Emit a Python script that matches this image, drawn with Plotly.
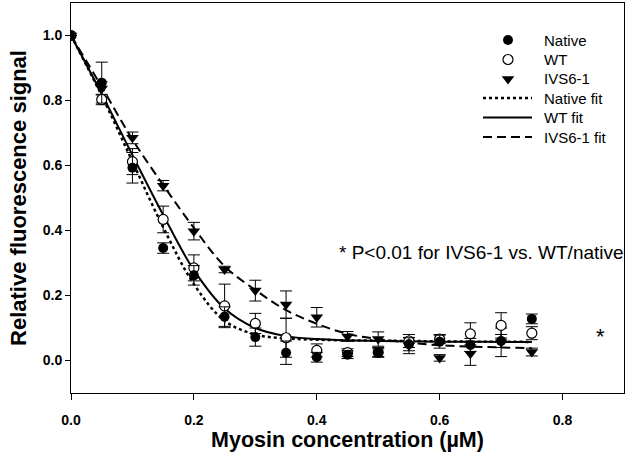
import plotly.graph_objects as go

# ---- data ----
conc = [0.0, 0.05, 0.10, 0.15, 0.20, 0.25, 0.30, 0.35, 0.40, 0.45, 0.50, 0.55, 0.60, 0.65, 0.70, 0.75]

native = [1.0, 0.855, 0.593, 0.346, 0.262, 0.135, 0.072, 0.024, 0.010, 0.018, 0.024, 0.050, 0.058, 0.048, 0.060, 0.128]
native_err = [0.0, 0.063, 0.047, 0.016, 0.030, 0.030, 0.028, 0.036, 0.015, 0.012, 0.012, 0.020, 0.020, 0.020, 0.020, 0.015]

wt = [1.0, 0.803, 0.612, 0.434, 0.285, 0.168, 0.114, 0.070, 0.031, 0.024, 0.025, 0.060, 0.066, 0.082, 0.108, 0.084]
wt_err = [0.0, 0.016, 0.040, 0.041, 0.040, 0.067, 0.031, 0.060, 0.020, 0.012, 0.015, 0.020, 0.014, 0.034, 0.039, 0.020]

ivs = [1.0, 0.837, 0.685, 0.538, 0.398, 0.280, 0.215, 0.172, 0.133, 0.074, 0.066, 0.046, 0.008, 0.021, 0.056, 0.026]
ivs_err = [0.0, 0.020, 0.018, 0.016, 0.027, 0.010, 0.032, 0.042, 0.030, 0.015, 0.022, 0.025, 0.010, 0.036, 0.044, 0.012]

fit_x = [0.0, 0.05, 0.10, 0.15, 0.20, 0.25, 0.30, 0.35, 0.40, 0.45, 0.50, 0.55, 0.60, 0.65, 0.70, 0.75]
native_fit = [1.0, 0.815, 0.612, 0.41, 0.235, 0.122, 0.080, 0.068, 0.064, 0.062, 0.061, 0.060, 0.059, 0.058, 0.058, 0.057]
wt_fit = [1.0, 0.82, 0.632, 0.448, 0.278, 0.160, 0.100, 0.075, 0.066, 0.062, 0.060, 0.059, 0.058, 0.058, 0.057, 0.057]
ivs_fit = [1.0, 0.842, 0.680, 0.540, 0.408, 0.290, 0.217, 0.155, 0.113, 0.082, 0.066, 0.055, 0.047, 0.043, 0.040, 0.038]

x_ticks = [0.0, 0.2, 0.4, 0.6, 0.8]
y_ticks = [0.0, 0.2, 0.4, 0.6, 0.8, 1.0]

legend_names = ["Native", "WT", "IVS6-1", "Native fit", "WT fit", "IVS6-1 fit"]

FONT = "Liberation Sans, Arial, sans-serif"

# plot area in pixels (for legend placement)
L, R, T, B = 71, 624, 3, 393
def fx(px):
    return (px - L) / (R - L)
def fy(py):
    return (B - py) / (B - T)

fig = go.Figure()

def err(vals):
    return dict(type="data", array=vals, visible=True, color="black", thickness=1, width=6)

DOT = dict(color="black", width=2.5, dash="dot")
SOLID = dict(color="black", width=2)
DASH = dict(color="black", width=2, dash="9px,5px")
M_NATIVE = dict(symbol="circle", size=10, color="black")
M_WT = dict(symbol="circle", size=10, color="white", line=dict(color="black", width=1.2))
M_IVS = dict(symbol="triangle-down", size=11, color="black")

fig.add_trace(go.Scatter(x=fit_x, y=native_fit, mode="lines", name="Native fit",
                         line=dict(DOT, shape="spline")))
fig.add_trace(go.Scatter(x=fit_x, y=wt_fit, mode="lines", name="WT fit",
                         line=dict(SOLID, shape="spline")))
fig.add_trace(go.Scatter(x=fit_x, y=ivs_fit, mode="lines", name="IVS6-1 fit",
                         line=dict(DASH, shape="spline")))

fig.add_trace(go.Scatter(x=conc, y=ivs, mode="markers", name="IVS6-1", error_y=err(ivs_err), marker=M_IVS))
fig.add_trace(go.Scatter(x=conc, y=wt, mode="markers", name="WT", error_y=err(wt_err), marker=M_WT))
fig.add_trace(go.Scatter(x=conc, y=native, mode="markers", name="Native", error_y=err(native_err), marker=M_NATIVE))

# ---- legend (drawn manually for exact spacing) ----
row_y = [40, 59.5, 79, 98, 117.5, 137]
sym_x = 508
for yy, mk in zip(row_y[:3], [M_NATIVE, M_WT, M_IVS]):
    fig.add_trace(go.Scatter(x=[fx(sym_x)], y=[fy(yy)], mode="markers", marker=mk,
                             xaxis="x2", yaxis="y2", hoverinfo="skip"))
for yy, ln in zip(row_y[3:], [DOT, SOLID, DASH]):
    fig.add_shape(type="line", xref="paper", yref="paper", x0=fx(483), x1=fx(532),
                  y0=fy(yy), y1=fy(yy), line=ln)
for yy, name in zip(row_y, legend_names):
    fig.add_annotation(x=fx(542), y=fy(yy), xref="paper", yref="paper", text=name,
                       showarrow=False, xanchor="left", yanchor="middle",
                       font=dict(family=FONT, size=15, color="black"))

fig.add_annotation(x=0.433, y=0.332, xref="x", yref="y", text="* P<0.01 for IVS6-1 vs. WT/native",
                   showarrow=False, xanchor="left", yanchor="middle",
                   font=dict(family=FONT, size=19, color="black"))
fig.add_annotation(x=0.862, y=0.074, xref="x", yref="y", text="*",
                   showarrow=False, xanchor="center", yanchor="middle",
                   font=dict(family=FONT, size=22, color="black"))

fig.update_layout(
    width=630, height=463,
    margin=dict(l=L, r=630 - R, t=T, b=463 - B),
    paper_bgcolor="white", plot_bgcolor="white",
    font=dict(family=FONT, color="black"),
    showlegend=False,
    xaxis=dict(range=[0, 0.9], tickvals=x_ticks, ticktext=["%.1f" % v for v in x_ticks],
               showgrid=False, zeroline=False, showline=True, linecolor="black", linewidth=1,
               mirror=True, ticks="outside", ticklen=6, tickcolor="black", automargin=False,
               ticklabelstandoff=8,
               tickfont=dict(family=FONT, size=14, color="black", weight="bold"),
               title=dict(text="<b>Myosin concentration (µM)</b>", font=dict(family=FONT, size=21.5), standoff=1)),
    yaxis=dict(range=[-0.1, 1.1], tickvals=y_ticks, ticktext=["%.1f" % v for v in y_ticks],
               showgrid=False, zeroline=False, showline=True, linecolor="black", linewidth=1,
               mirror=True, ticks="outside", ticklen=5, tickcolor="black", automargin=False,
               tickfont=dict(family=FONT, size=14, color="black", weight="bold"),
               title=dict(text="<b>Relative fluorescence signal</b>", font=dict(family=FONT, size=22), standoff=10)),
    xaxis2=dict(overlaying="x", range=[0, 1], visible=False, fixedrange=True),
    yaxis2=dict(overlaying="y", range=[0, 1], visible=False, fixedrange=True),
)

fig.write_html("out.html", config={"displayModeBar": False},
               post_script="document.body.style.margin='0';document.body.style.padding='0';")
